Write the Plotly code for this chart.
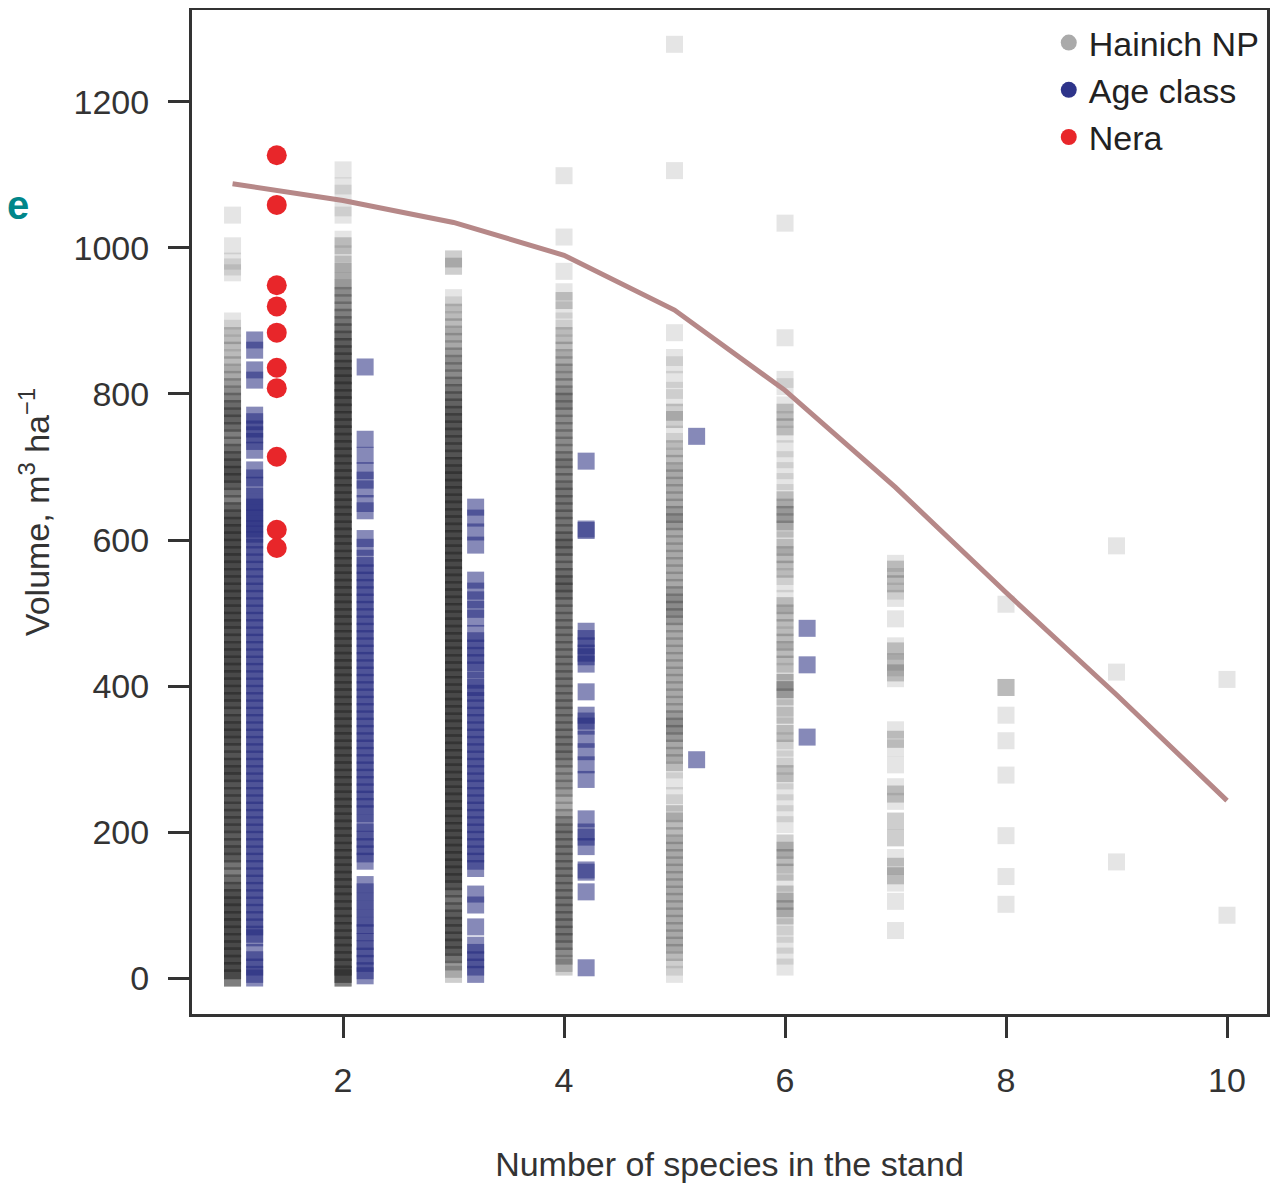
import plotly.graph_objects as go

# ---------------- data ----------------
species_ticks = [2, 4, 6, 8, 10]
volume_ticks = [0, 200, 400, 600, 800, 1000, 1200]

# Hainich NP stands: (volume m3/ha, number of overlapping stands) per species count
hainich_1 = [(1045,1),(1003,1),(982,1),(974,1),(966,1),
    (900,1),(890,1),(880,2),(870,1),(860,2),(850,1),(840,2),(830,2),(820,2),(810,3),(800,3),
    (790,4),(780,5),(770,5),(760,5),(750,4),(740,3),(730,4),(720,5),(710,6),(700,6),(690,7),
    (680,6),(670,5),(660,3),(650,4),(640,6),(630,6),(620,7),(610,7),(600,7),(590,7),(580,7),
    (570,7),(560,7),(550,7),(540,7),(530,7),(520,7),(510,7),(500,7),(490,7),(480,7),(470,6),
    (460,7),(450,7),(440,7),(430,7),(420,7),(410,7),(400,7),(390,7),(380,7),(370,6),(360,6),
    (350,7),(340,7),(330,7),(320,6),(310,6),(300,6),(290,7),(280,7),(270,6),(260,6),(250,6),
    (240,6),(230,6),(220,6),(210,6),(200,6),(190,5),(180,6),(170,6),(160,5),(150,3),(140,4),
    (130,5),(120,6),(110,7),(100,7),(90,7),(80,7),(70,7),(60,7),(50,7),(40,7),(30,7),(20,7),
    (10,7),(0,7)]
hainich_2 = [(1107,1),(1085,1),(1075,1),(1055,1),(1045,1),(1012,1),(1003,2),(992,1),(978,2),
    (968,2),(955,2),(945,3),(935,3),(925,3),(915,3),(905,4),(895,4),(885,5),(875,5),(865,6),
    (855,6),(845,6),(835,7),(825,7),(815,7),(805,7),(795,7),(785,7),(775,7),(765,7),(755,7),
    (745,7),(735,7),(725,7),(715,7),(705,7),(695,7),(685,7),(675,7),(665,7),(655,7),(645,7),
    (635,7),(625,7),(615,7),(605,7),(595,7),(585,7),(575,7),(565,7),(555,7),(545,7),(535,7),
    (525,7),(515,7),(505,7),(495,7),(485,7),(475,7),(465,7),(455,7),(445,7),(435,7),(425,7),
    (415,7),(405,7),(395,7),(385,7),(375,7),(365,7),(355,7),(345,7),(335,7),(325,7),(315,7),
    (305,7),(295,7),(285,7),(275,7),(265,7),(255,7),(245,7),(235,7),(225,7),(215,7),(205,7),
    (195,7),(185,7),(175,7),(165,7),(155,7),(145,7),(135,7),(125,7),(115,7),(105,7),(95,7),
    (85,7),(75,7),(65,7),(55,7),(45,7),(35,7),(25,7),(15,7),(5,7),(0,7)]
hainich_3 = [(985,2),(975,2),(932,1),(922,1),(912,2),(902,1),(892,2),(882,2),(872,2),(862,2),
    (852,3),(842,3),(832,3),(822,3),(812,4),(802,4),(792,5),(782,5),(772,6),(762,6),(752,6),
    (742,6),(732,6),(722,6),(712,6),(702,7),(692,7),(682,7),(672,7),(662,7),(652,7),(642,7),
    (632,7),(622,7),(612,7),(602,7),(592,7),(582,7),(572,7),(562,7),(552,7),(542,7),(532,7),
    (522,7),(512,7),(502,7),(492,7),(482,7),(472,7),(462,7),(452,7),(442,7),(432,7),(422,7),
    (412,7),(402,7),(392,7),(382,7),(372,7),(362,7),(352,7),(342,7),(332,7),(322,7),(312,7),
    (302,7),(292,7),(282,7),(272,7),(262,7),(252,7),(242,7),(232,7),(222,7),(212,7),(202,7),
    (192,7),(182,7),(172,7),(162,7),(152,7),(142,7),(132,7),(122,5),(112,4),(102,4),(92,5),
    (82,6),(72,6),(62,6),(52,6),(42,6),(32,5),(22,3),(12,2),(5,2)]
hainich_4 = [(1099,1),(1015,1),(968,1),(940,1),(928,2),(915,1),(900,1),(890,1),(880,2),(870,1),
    (860,2),(850,2),(840,2),(830,3),(820,2),(810,3),(800,3),(790,4),(780,3),(770,3),(760,3),
    (750,3),(740,3),(730,3),(720,3),(710,4),(700,4),(690,3),(680,4),(670,4),(660,4),(650,4),
    (640,4),(630,4),(620,4),(610,4),(600,5),(590,5),(580,4),(570,4),(560,4),(550,5),(540,5),
    (530,5),(520,4),(510,4),(500,4),(490,4),(480,4),(470,4),(460,4),(450,4),(440,4),(430,4),
    (420,4),(410,4),(400,4),(390,4),(380,4),(370,4),(360,4),(350,4),(340,4),(330,4),(320,4),
    (310,4),(300,4),(290,3),(280,3),(270,3),(260,3),(250,2),(240,2),(230,2),(220,3),(210,4),
    (200,4),(190,4),(180,4),(170,4),(160,4),(150,4),(140,4),(130,4),(120,4),(110,4),(100,4),
    (90,4),(80,4),(70,4),(60,4),(50,4),(40,3),(30,3),(20,2),(15,2)]
hainich_5 = [(1279,1),(1106,1),(884,1),(850,1),(840,1),(820,1),(805,1),(795,1),(775,2),(765,2),
    (745,1),(735,1),(725,2),(715,1),(705,2),(695,2),(685,2),(675,2),(665,2),(655,2),(645,2),
    (635,3),(625,3),(615,2),(605,2),(595,2),(585,2),(575,2),(565,2),(555,2),(545,2),(535,2),
    (525,3),(515,3),(505,3),(495,3),(485,2),(475,2),(465,2),(455,2),(445,2),(435,2),(425,2),
    (415,2),(405,2),(395,2),(385,2),(375,2),(365,2),(355,3),(345,3),(335,3),(325,2),(315,2),
    (305,2),(295,2),(285,1),(270,1),(250,1),(240,1),(225,2),(215,2),(205,1),(195,2),(185,2),
    (175,2),(165,2),(155,2),(145,2),(135,2),(125,2),(115,2),(105,2),(95,2),(85,2),(75,2),
    (65,2),(55,2),(45,2),(35,2),(25,1),(15,1),(5,1)]
hainich_6 = [(1034,1),(877,1),(820,1),(810,1),(785,1),(775,2),(765,1),(755,2),(745,1),(725,1),
    (710,1),(695,1),(680,1),(665,1),(655,2),(645,2),(635,3),(625,2),(615,2),(600,1),(590,2),
    (580,2),(570,1),(560,2),(550,1),(540,1),(520,1),(510,2),(500,2),(490,1),(480,2),(470,1),
    (460,2),(450,2),(440,1),(430,2),(420,1),(405,3),(395,3),(385,2),(370,1),(360,2),(345,1),
    (335,2),(325,1),(315,1),(300,1),(290,1),(280,2),(270,1),(255,1),(240,1),(225,1),(210,1),
    (185,2),(175,2),(165,2),(155,1),(145,2),(130,1),(115,2),(105,2),(95,2),(85,2),(70,1),
    (60,1),(45,1),(30,1),(15,1)]
hainich_7 = [(568,1),(560,2),(550,1),(540,2),(530,1),(520,1),(492,1),(455,1),(448,2),(433,2),
    (425,1),(418,2),(410,1),(340,1),(327,2),(315,1),(292,1),(262,1),(252,2),(242,1),(215,2),
    (192,2),(165,1),(153,2),(140,2),(130,1),(105,1),(65,1)]
hainich_8 = [(512,1),(398,3),(360,1),(325,1),(278,1),(195,1),(139,1),(101,1)]
hainich_9 = [(592,1),(419,1),(159,1)]
hainich_10 = [(409,1),(86,1)]

# Age class stands (volume m3/ha), plotted just right of each species count
age_class_1 = [874, 860, 833, 819, 771, 762, 752, 744, 735, 723, 696, 685, 675, 660, 652, 645,
    637, 630, 622, 615, 608, 600, 590, 580, 570, 560, 550, 540, 530, 520, 510, 500, 490, 480,
    470, 460, 450, 440, 430, 420, 410, 400, 390, 380, 370, 360, 350, 340, 330, 320, 310, 300,
    290, 280, 270, 260, 250, 240, 230, 220, 210, 200, 190, 180, 170, 160, 150, 140, 130, 120,
    110, 100, 90, 80, 70, 60, 55, 35, 25, 15, 5, 0]
age_class_2 = [837, 738, 716, 695, 682, 670, 650, 640, 602, 590, 575, 565, 555, 545, 535, 525,
    515, 505, 495, 485, 475, 465, 455, 445, 435, 425, 415, 405, 395, 385, 375, 365, 355, 345,
    335, 325, 315, 305, 295, 285, 275, 265, 255, 245, 235, 225, 212, 200, 190, 180, 170, 160,
    128, 118, 105, 95, 82, 72, 62, 50, 40, 30, 20, 10, 3]
age_class_3 = [645, 630, 611, 593, 545, 530, 518, 505, 493, 472, 462, 452, 442, 432, 422, 408,
    398, 390, 380, 370, 360, 350, 340, 330, 320, 310, 300, 290, 280, 270, 260, 250, 240, 230,
    220, 210, 200, 190, 180, 170, 160, 150, 115, 100, 70, 45, 35, 25, 15, 5]
age_class_4 = [708, 615, 613, 475, 465, 455, 445, 440, 430, 392, 360, 352, 345, 327, 310, 292,
    272, 218, 200, 193, 180, 148, 145, 118, 14]
age_class_5 = [742, 299]
age_class_6 = [479, 429, 330]

# Nera stands (all with 1 species)
nera_volume = [1127, 1059, 949, 920, 884, 836, 808, 714, 614, 589]

# fitted trend line
trend_species = [1, 2, 3, 4, 5, 6, 7, 8, 9, 10]
trend_volume = [1088, 1065, 1035, 990, 915, 805, 672, 528, 388, 243]

# ---------------- build ----------------
hainich = {1: hainich_1, 2: hainich_2, 3: hainich_3, 4: hainich_4, 5: hainich_5,
           6: hainich_6, 7: hainich_7, 8: hainich_8, 9: hainich_9, 10: hainich_10}
hx, hy = [], []
for n, col in hainich.items():
    for v, c in col:
        hx += [n] * c
        hy += [v] * c

age = {1: age_class_1, 2: age_class_2, 3: age_class_3, 4: age_class_4,
       5: age_class_5, 6: age_class_6}
ax_, ay_ = [], []
for n, col in age.items():
    ax_ += [n + 0.2] * len(col)
    ay_ += col

FONT = "Liberation Sans, Arial, Helvetica, sans-serif"
GRAY_LEG = "rgb(170,170,170)"
NAVY = "rgb(46,52,138)"
RED = "rgb(232,38,42)"

fig = go.Figure()
fig.add_trace(go.Scatter(x=hx, y=hy, mode="markers", showlegend=False, hoverinfo="skip",
    marker=dict(symbol="square", size=17, color="rgba(40,40,40,0.12)", line=dict(width=0))))
fig.add_trace(go.Scatter(x=ax_, y=ay_, mode="markers", showlegend=False, hoverinfo="skip",
    marker=dict(symbol="square", size=17, color="rgba(35,40,125,0.55)", line=dict(width=0))))
fig.add_trace(go.Scatter(x=[1.4] * len(nera_volume), y=nera_volume, mode="markers",
    showlegend=False, marker=dict(symbol="circle", size=20, color=RED, line=dict(width=0))))
fig.add_trace(go.Scatter(x=trend_species, y=trend_volume, mode="lines", showlegend=False,
    line=dict(color="rgb(182,136,136)", width=5)))

# legend entries
for name, col in [("Hainich NP", GRAY_LEG), ("Age class", NAVY), ("Nera", RED)]:
    fig.add_trace(go.Scatter(x=[None], y=[None], mode="markers", name=name,
        marker=dict(symbol="circle", size=16, color=col)))

axis_common = dict(showline=True, linecolor="#333333", linewidth=3, mirror=True,
    ticks="outside", ticklen=21, tickwidth=3, tickcolor="#333333", showgrid=False,
    zeroline=False, tickfont=dict(family=FONT, size=34, color="#333333"))

fig.update_xaxes(range=[0.633, 10.362], tickvals=species_ticks, ticklabelstandoff=13,
    title=dict(text="Number of species in the stand", standoff=55,
               font=dict(family=FONT, size=34, color="#333333")), **axis_common)
fig.update_yaxes(range=[-49.3, 1326.0], tickvals=volume_ticks, ticklabelstandoff=12,
    title=dict(text="Volume, m<sup>3</sup> ha<sup>−1</sup>", standoff=14,
               font=dict(family=FONT, size=34, color="#333333")), **axis_common)

# the page body adds an 8px margin, so the figure is sized to fit the window
fig.update_layout(
    width=1271, height=1175,
    margin=dict(l=184, r=12, t=2, b=169, autoexpand=False),
    plot_bgcolor="white", paper_bgcolor="white",
    font=dict(family=FONT, color="#333333"),
    legend=dict(x=0.797, y=0.996, xanchor="left", yanchor="top", bgcolor="rgba(0,0,0,0)",
                font=dict(family=FONT, size=34, color="#222222"), itemwidth=30,
                tracegroupgap=0),
    annotations=[dict(text="<b>e</b>", xref="paper", yref="paper", x=-0.174, y=0.83,
                      showarrow=False, font=dict(family=FONT, size=40, color="rgb(0,134,138)"))],
)

fig.write_html("out.html")
